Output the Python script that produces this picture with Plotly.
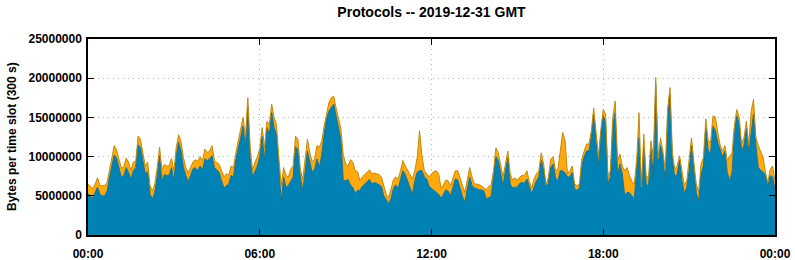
import plotly.graph_objects as go

# 5-minute slots over 2019-12-31 (slot index 0..288), values in millions of bytes
total_m = [
    6.5, 6.2, 5.9, 6.5, 7.3, 6.3, 6.3, 6.3, 6.7, 8.4, 9.7, 11.4, 10.8, 9.7, 8.5, 8.7, 9.8, 9.3, 8.2, 9.3,
    9.4, 12.6, 12.2, 10.5, 8.8, 9.3, 6.3, 5.6, 6.5, 8.6, 11.2, 8.4, 9.0, 8.8, 8.8, 9.8, 8.2, 11.2, 12.8, 11.9,
    9.9, 8.6, 7.9, 8.6, 9.3, 9.6, 9.4, 10.0, 9.5, 10.95, 10.5, 10.7, 11.4, 9.5, 9.3, 9.0, 8.2, 7.4, 7.8, 7.6,
    8.8, 8.6, 10.5, 12.1, 13.5, 15.0, 12.4, 17.5, 11.2, 8.2, 9.3, 10.0, 11.0, 13.7, 11.2, 14.5, 14.1, 16.7, 15.0, 14.1,
    9.9, 6.3, 8.6, 7.6, 7.4, 8.4, 8.8, 12.6, 12.2, 8.4, 7.1, 9.5, 12.2, 10.5, 9.3, 9.7, 11.4, 11.2, 12.0, 13.9,
    15.4, 16.9, 17.5, 17.7, 16.2, 14.8, 13.6, 10.3, 9.05, 8.8, 9.6, 9.3, 8.2, 8.1, 6.9, 7.4, 7.7, 8.0, 8.3, 7.8,
    7.9, 7.8, 7.7, 7.4, 6.3, 5.2, 4.7, 5.7, 7.0, 7.4, 7.15, 8.2, 9.5, 8.8, 8.2, 7.7, 7.15, 8.2, 9.9, 13.3,
    10.1, 8.2, 7.8, 7.4, 7.8, 8.1, 8.2, 7.8, 6.0, 6.4, 7.0, 6.9, 6.3, 7.15, 8.2, 8.2, 7.15, 6.3, 5.45, 7.15,
    8.6, 7.4, 6.5, 6.5, 6.4, 6.3, 6.0, 5.75, 6.2, 6.4, 8.2, 11.1, 10.5, 8.8, 7.4, 9.05, 10.7, 7.8, 7.0, 7.3,
    7.0, 7.4, 7.6, 7.6, 8.2, 6.85, 6.0, 7.15, 7.8, 8.2, 10.5, 9.05, 6.4, 7.4, 9.7, 10.0, 8.2, 8.4, 10.5, 13.1,
    12.0, 7.8, 8.2, 8.8, 6.5, 6.3, 6.5, 9.7, 10.7, 11.6, 11.6, 13.3, 16.2, 13.0, 10.0, 13.5, 16.0, 15.4, 7.4, 8.2,
    15.0, 17.1, 9.5, 10.3, 8.8, 8.2, 8.6, 7.6, 6.85, 6.5, 9.5, 15.6, 6.1, 12.85, 7.4, 7.4, 12.0, 9.9, 20.1, 9.7,
    12.4, 10.7, 8.2, 16.2, 18.8, 10.3, 8.4, 8.8, 10.1, 8.2, 6.4, 6.9, 9.5, 12.4, 9.3, 6.5, 5.45, 9.05, 9.9, 14.8,
    12.0, 11.8, 15.2, 15.05, 13.1, 11.5, 10.7, 11.4, 9.5, 10.1, 10.5, 14.1, 16.0, 15.0, 11.6, 12.4, 14.5, 11.4, 15.8, 17.3,
    12.4, 11.4, 10.7, 9.9, 8.0, 6.7, 8.4, 8.8, 6.9,
]

blue_m = [
    5.3, 5.0, 4.7, 5.45, 6.1, 5.2, 5.0, 5.0, 5.6, 7.3, 8.6, 10.2, 9.8, 8.5, 7.3, 7.6, 8.6, 8.0, 7.1, 8.2,
    8.6, 11.5, 11.2, 9.5, 7.8, 8.1, 5.2, 4.6, 5.45, 7.4, 10.1, 6.9, 7.7, 7.6, 7.6, 8.6, 6.9, 10.1, 11.8, 10.7,
    8.6, 7.6, 6.8, 7.6, 8.4, 8.6, 8.2, 8.8, 8.3, 9.7, 9.5, 9.7, 10.1, 8.6, 8.3, 8.0, 6.9, 6.0, 6.3, 6.5,
    7.6, 7.4, 9.7, 10.95, 12.4, 13.9, 11.2, 16.4, 9.8, 7.4, 8.2, 8.8, 10.0, 12.6, 9.5, 13.7, 12.85, 15.6, 13.7, 12.85,
    8.8, 4.2, 7.4, 6.1, 6.3, 6.9, 7.4, 11.2, 10.95, 7.4, 5.7, 8.0, 10.7, 9.3, 8.0, 8.4, 9.7, 8.6, 10.3, 12.85,
    14.8, 15.8, 16.2, 16.7, 15.2, 13.7, 12.2, 7.0, 6.9, 7.1, 6.4, 6.1, 5.3, 5.7, 5.7, 6.2, 6.5, 6.9, 7.1, 6.5,
    6.7, 6.6, 6.4, 6.2, 5.0, 4.4, 4.0, 4.6, 5.9, 6.4, 5.9, 7.1, 8.2, 7.7, 6.9, 6.2, 5.2, 6.9, 8.0, 8.2,
    8.2, 7.4, 7.15, 6.2, 6.0, 5.7, 5.45, 5.2, 4.65, 5.2, 5.75, 5.6, 5.0, 6.1, 7.15, 7.0, 5.75, 4.9, 4.2, 5.9,
    7.4, 6.3, 6.0, 5.9, 5.75, 5.75, 5.6, 4.6, 4.8, 4.9, 7.4, 10.0, 9.5, 7.7, 6.3, 8.2, 9.8, 6.5, 6.0, 6.1,
    6.1, 6.6, 6.7, 6.6, 7.15, 6.2, 5.3, 6.1, 6.9, 7.4, 9.5, 8.3, 6.3, 6.6, 8.6, 9.05, 7.3, 6.9, 8.2, 8.2,
    7.9, 7.4, 7.4, 8.0, 5.9, 5.7, 6.0, 8.8, 10.0, 10.7, 10.7, 12.4, 15.4, 11.8, 8.8, 12.85, 15.2, 14.3, 6.5, 7.4,
    13.9, 15.6, 7.6, 9.05, 7.8, 5.0, 5.45, 5.4, 5.0, 4.6, 8.4, 12.4, 5.9, 11.2, 6.4, 6.3, 10.95, 7.4, 19.2, 9.5,
    11.4, 10.1, 6.9, 15.0, 17.9, 9.5, 7.4, 7.8, 9.5, 6.9, 5.3, 6.1, 8.2, 11.4, 8.2, 5.45, 4.2, 7.8, 8.8, 13.7,
    10.7, 10.5, 13.9, 13.3, 11.8, 10.8, 10.0, 10.7, 8.0, 6.9, 8.0, 13.1, 15.2, 14.1, 10.7, 11.4, 13.6, 10.5, 13.3, 15.4,
    11.4, 8.6, 8.3, 8.0, 7.7, 6.2, 7.6, 7.4, 5.7,
]

tick_hours = [0, 6, 12, 18, 24]
tick_labels = ["00:00", "06:00", "12:00", "18:00", "00:00"]
y_ticks = [0, 5000000, 10000000, 15000000, 20000000, 25000000]

hours = [i * 5 / 60 for i in range(len(total_m))]
total = [v * 1e6 for v in total_m]
blue = [v * 1e6 for v in blue_m]

BLUE = "#0082B4"
ORANGE = "#FFA90F"

fig = go.Figure()
fig.add_trace(go.Scatter(
    x=hours, y=blue, mode="lines", fill="tozeroy",
    line=dict(color="#1F6E85", width=1), fillcolor=BLUE,
    hoverinfo="skip", showlegend=False,
))
fig.add_trace(go.Scatter(
    x=hours, y=total, mode="lines", fill="tonexty",
    line=dict(color="#C28A10", width=1), fillcolor=ORANGE,
    hoverinfo="skip", showlegend=False,
))

font_family = "Liberation Sans, Arial, sans-serif"
fig.update_layout(
    width=795, height=260,
    margin=dict(l=88, r=20, t=39, b=25, autoexpand=False),
    paper_bgcolor="white", plot_bgcolor="white",
    font=dict(family=font_family, size=12, color="black"),
    title=dict(
        text="<b>Protocols -- 2019-12-31 GMT</b>",
        x=(88 + 775) / 2 / 795, xanchor="center",
        y=1 - 12 / 260, yanchor="middle",
        font=dict(size=14, family=font_family, color="black"),
    ),
    xaxis=dict(
        range=[0, 24], tickvals=tick_hours,
        ticktext=[f"<b>{t}</b>" for t in tick_labels],
        showgrid=True, gridcolor="#B4B4B4", griddash="1px,4px", gridwidth=1,
        showline=True, linecolor="black", linewidth=1.5, mirror="ticks",
        ticks="inside", ticklen=6, tickcolor="black",
        zeroline=False, tickfont=dict(size=12), automargin=False,
        ticklabelstandoff=7,
    ),
    yaxis=dict(
        range=[0, 25000000], tickvals=y_ticks,
        ticktext=[f"<b>{v}</b>" for v in y_ticks],
        showgrid=True, gridcolor="#B4B4B4", griddash="1px,4px", gridwidth=1,
        showline=True, linecolor="black", linewidth=1.5, mirror="ticks",
        ticks="inside", ticklen=6, tickcolor="black",
        zeroline=False, tickfont=dict(size=12), automargin=False,
        ticklabelstandoff=2,
    ),
    annotations=[dict(
        text="<b>Bytes per time slot (300 s)</b>",
        xref="paper", yref="paper", x=-76 / 687, y=0.5,
        xanchor="center", yanchor="middle", textangle=-90,
        showarrow=False, font=dict(size=12, family=font_family, color="black"),
    )],
)

fig.write_html("out.html")
